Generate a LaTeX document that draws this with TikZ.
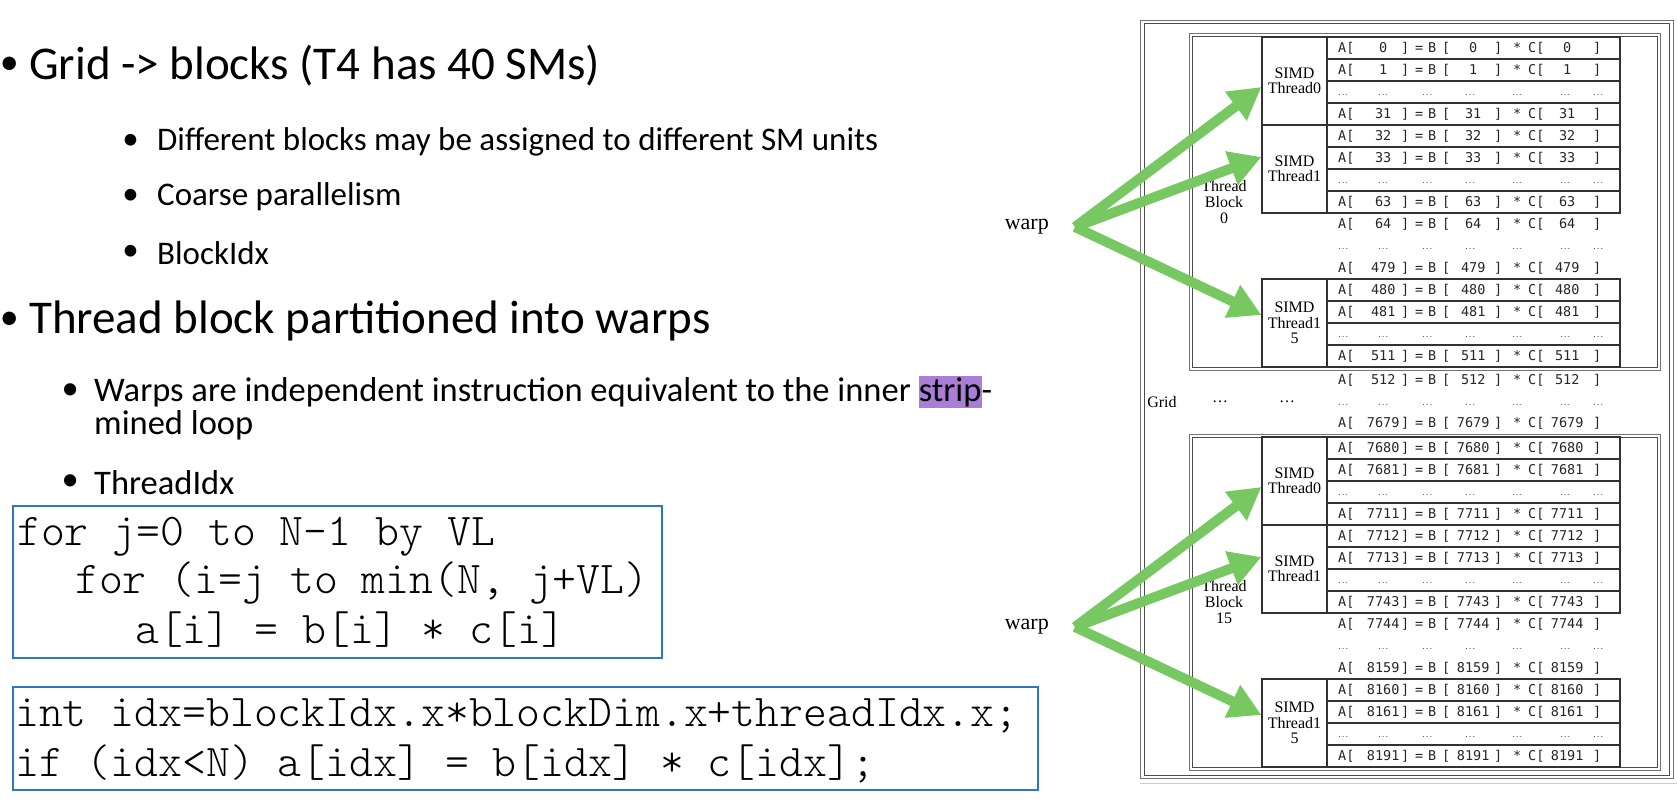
\documentclass[tikz,border=0pt]{standalone}
\usepackage{fontspec}
\usepackage{xcolor}
\usepackage{tikz}
\usetikzlibrary{positioning,arrows.meta}
\newfontfamily\slidefont{Carlito}
\newfontfamily\figfont{Liberation Serif}
\newfontfamily\cellfont{DejaVu Sans Mono}
\newfontfamily\codefont{Latin Modern Mono Light}
\definecolor{codeblue}{RGB}{47,117,196}
\definecolor{warpgreen}{RGB}{120,200,98}
\definecolor{hlpurple}{RGB}{170,125,215}
\definecolor{cellgray}{RGB}{50,50,50}
\newcommand{\hlword}[1]{{\setlength\fboxsep{0pt}\colorbox{hlpurple}{\rule[-7pt]{0pt}{32pt}#1}}}
\newcommand{\eqrow}[1]{\makebox[28pt][l]{A[}\makebox[34pt]{#1}\makebox[10pt]{]}\makebox[18pt]{=}\makebox[8pt]{B}\makebox[20pt]{[}\makebox[34pt]{#1}\makebox[16pt]{]}\makebox[22pt]{*}\makebox[28pt][l]{C[}\makebox[22pt]{#1}\makebox[38pt]{]}}
\newcommand{\dotrow}{\hspace*{5pt}\makebox[0pt]{...}\hspace*{40pt}\makebox[0pt]{...}\hspace*{44pt}\makebox[0pt]{...}\hspace*{43pt}\makebox[0pt]{...}\hspace*{47pt}\makebox[0pt]{...}\hspace*{48pt}\makebox[0pt]{...}\hspace*{33pt}\makebox[0pt]{...}}

\begin{document}
\begin{tikzpicture}[x=1pt, y=-1pt,
    mainitem/.style={anchor=west, inner sep=0pt, font=\slidefont\fontsize{47}{56}\selectfont},
    mainbul/.style={inner sep=0pt, font=\slidefont\fontsize{38}{44}\selectfont},
    subitem/.style={anchor=west, inner sep=0pt, font=\slidefont\fontsize{33}{40}\selectfont},
    subitemb/.style={anchor=west, inner sep=0pt, font=\slidefont\fontsize{34.5}{41}\selectfont},
    codebox/.style={draw=codeblue, line width=2pt, inner sep=0pt},
    codeline/.style={anchor=west, inner sep=0pt, font=\codefont\fontsize{45.5}{50}\selectfont},
    figlbl/.style={inner sep=0pt, align=center, font=\figfont\fontsize{16}{16}\selectfont},
    simdcell/.style={draw=cellgray, line width=1.2pt, minimum width=65pt, minimum height=88pt, inner sep=0pt, align=center, font=\figfont\fontsize{16}{15.5}\selectfont},
    cellline/.style={draw=cellgray, line width=1.2pt},
    cellrow/.style={anchor=west, inner sep=0pt, text=black!85, font=\cellfont\fontsize{13.5}{14}\selectfont},
    dotsrow/.style={anchor=west, inner sep=0pt, font=\cellfont\fontsize{6}{6}\selectfont},
    warplbl/.style={inner sep=0pt, font=\figfont\fontsize{22}{22}\selectfont},
    warparrow/.style={draw=warpgreen, line width=10pt, -{Triangle[length=32pt,width=34pt]}},
    frameline/.style={draw=black!55, line width=1pt},
  ]
    \fill[white] (0,0) rectangle (1677,800);
    \useasboundingbox (0,0) rectangle (1677,800);

    % Texto do slide
    \node[mainitem] (t1) at (29,66) {Grid -> blocks (T4 has 40 SMs)};
    \node[mainbul, left=10pt of t1] (b1) {•};
    \node[subitem] (t2) at (157,142) {Different blocks may be assigned to different SM units};
    \node[subitem, left=18pt of t2] (b2) {•};
    \node[subitem] (t3) at (157,197) {Coarse parallelism};
    \node[subitem, left=18pt of t3] (b3) {•};
    \node[subitem] (t4) at (157,253) {BlockIdx};
    \node[subitem, left=18pt of t4] (b4) {•};
    \node[mainitem] (t5) at (29,321) {Thread block partitioned into warps};
    \node[mainbul, left=10pt of t5] (b5) {•};
    \node[subitemb] (t6) at (94,392) {Warps are independent instruction equivalent to the inner \hlword{strip}-};
    \node[subitemb, left=15pt of t6] (b6) {•};
    \node[subitemb] (t7) at (94,425) {mined loop};
    \node[subitemb] (t8) at (94,483) {ThreadIdx};
    \node[subitemb, left=15pt of t8] (b8) {•};

    % Codigo
    \node[codebox, minimum width=649pt, minimum height=152pt] (box1) at (337.5,582) {};
    \node[codeline] (c1) at (17,537) {for j=0 to N-1 by VL};
    \node[codeline] (c2) at (75,583) {for (i=j to min(N, j+VL)};
    \node[codeline] (c3) at (135,630) {a[i] = b[i] * c[i]};
    \node[codebox, minimum width=1025pt, minimum height=103pt] (box2) at (525.5,738.5) {};
    \node[codeline] (c4) at (15,716) {int idx=blockIdx.x*blockDim.x+threadIdx.x;};
    \node[codeline] (c5) at (15,764) {if (idx<N) a[idx] = b[idx] * c[idx];};

    % Grid
    \draw[frameline] (1140,21) rectangle (1673,778);
    \draw[frameline, draw=black!70] (1144,24) rectangle (1669,775);
    \draw[black!20, line width=1pt] (1140,783) -- (1677,783);
    \node[figlbl] (grid) at (1162,402) {Grid};
    \node[figlbl] (gdotsA) at (1220,402) {…};
    \node[figlbl] (gdotsB) at (1287,402) {…};

    % Blocos
    \foreach \o/\bk in {0/0,400/15} {
        \draw[frameline] (1189,34+\o) rectangle (1660,370+\o);
        \draw[frameline, draw=black!70] (1192,37+\o) rectangle (1657,367+\o);
        \node[figlbl] (blk\bk) at (1224,202+\o) {Thread\\Block\\\bk};
        \node[simdcell] (sa\bk) at (1294.5,81+\o) {SIMD\\Thread0};
        \node[simdcell] (sb\bk) at (1294.5,169+\o) {SIMD\\Thread1};
        \node[simdcell] (sc\bk) at (1294.5,323+\o) {SIMD\\Thread1\\5};
        \foreach \t in {37,125,279} {
            \draw[cellline] (1327,\t+\o) rectangle (1620,\t+88+\o);
            \foreach \k in {22,44,66}
                \draw[cellline] (1327,\t+\k+\o) -- (1620,\t+\k+\o);
        }
    }

    % Linhas A = B * C
    \foreach \yy/\nn in {48/0,70/1,114/31,136/32,158/33,202/63,224/64,268/479,290/480,312/481,356/511,380/512,423/7679,
                         448/7680,470/7681,514/7711,536/7712,558/7713,602/7743,624/7744,668/8159,690/8160,712/8161,756/8191}
        \node[cellrow] (r\nn) at (1338,\yy) {\eqrow{\nn}};
    \foreach \yy [count=\k] in {92,180,246,334,402,492,580,646,734}
        \node[dotsrow] (d\k) at (1338,\yy+3) {\dotrow};

    % warps
    \coordinate (fanA) at (1075,227);
    \coordinate (fanB) at (1075,627);
    \node[warplbl, left=26pt of fanA] (warpA) {warp};
    \node[warplbl, left=26pt of fanB] (warpB) {warp};
    \draw[warparrow] (fanA) -- ([yshift=-6pt]sa0.west);
    \draw[warparrow] (fanA) -- ([yshift=12pt]sb0.west);
    \draw[warparrow] (fanA) -- ([yshift=8pt]sc0.west);
    \draw[warparrow] (fanB) -- ([yshift=-6pt]sa15.west);
    \draw[warparrow] (fanB) -- ([yshift=12pt]sb15.west);
    \draw[warparrow] (fanB) -- ([yshift=8pt]sc15.west);
\end{tikzpicture}
\end{document}
